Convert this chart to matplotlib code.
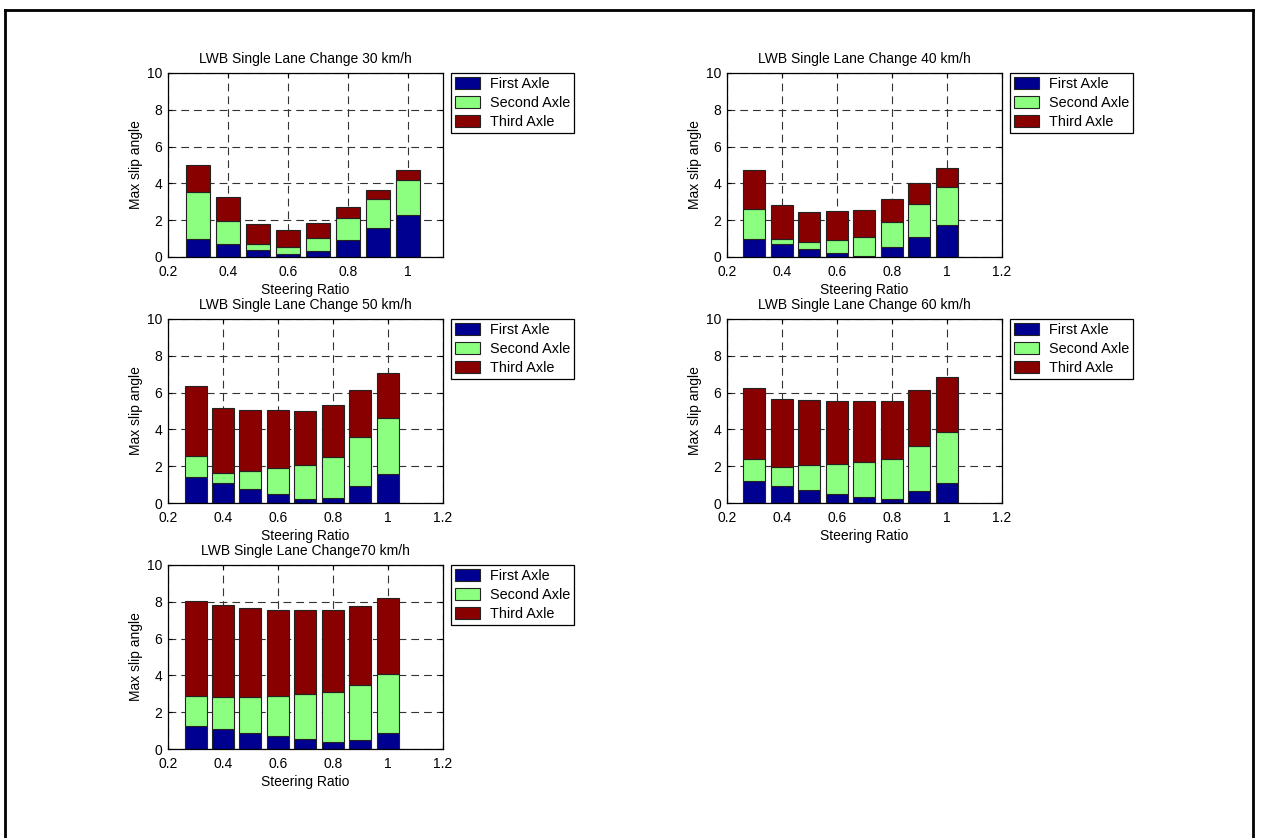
import matplotlib
matplotlib.use("Agg")
import matplotlib.pyplot as plt
from matplotlib.lines import Line2D
import numpy as np

plt.rcParams['font.family'] = ['Liberation Sans', 'DejaVu Sans']

# Steering ratios at which each manoeuvre was simulated
steering_ratio = [0.3, 0.4, 0.5, 0.6, 0.7, 0.8, 0.9, 1.0]
axle_names = ["First Axle", "Second Axle", "Third Axle"]
axle_colors = ["#000090", "#8CFF80", "#880000"]

# Max slip angle contribution of each axle (stacked) per speed
first_30 = [1.00, 0.71, 0.40, 0.18, 0.31, 0.94, 1.58, 2.30]
second_30 = [2.51, 1.23, 0.31, 0.35, 0.72, 1.18, 1.57, 1.87]
third_30 = [1.51, 1.32, 1.08, 0.96, 0.82, 0.60, 0.51, 0.56]

first_40 = [1.00, 0.71, 0.45, 0.22, 0.07, 0.54, 1.11, 1.76]
second_40 = [1.61, 0.29, 0.37, 0.69, 1.02, 1.34, 1.75, 2.04]
third_40 = [2.10, 1.83, 1.64, 1.57, 1.45, 1.27, 1.14, 1.04]

first_50 = [1.39, 1.11, 0.76, 0.51, 0.22, 0.27, 0.92, 1.58]
second_50 = [1.15, 0.50, 0.96, 1.41, 1.86, 2.23, 2.65, 3.04]
third_50 = [3.84, 3.55, 3.33, 3.13, 2.90, 2.81, 2.59, 2.45]

first_60 = [1.18, 0.92, 0.71, 0.51, 0.34, 0.22, 0.63, 1.11]
second_60 = [1.23, 1.05, 1.34, 1.59, 1.87, 2.17, 2.45, 2.75]
third_60 = [3.82, 3.68, 3.55, 3.43, 3.32, 3.14, 3.04, 2.97]

first_70 = [1.26, 1.08, 0.85, 0.68, 0.54, 0.40, 0.50, 0.85]
second_70 = [1.62, 1.75, 1.98, 2.20, 2.47, 2.70, 2.98, 3.20]
third_70 = [5.17, 4.99, 4.83, 4.69, 4.52, 4.43, 4.29, 4.18]

titles = [
    "LWB Single Lane Change 30 km/h",
    "LWB Single Lane Change 40 km/h",
    "LWB Single Lane Change 50 km/h",
    "LWB Single Lane Change 60 km/h",
    "LWB Single Lane Change70 km/h",
]
series = [
    (first_30, second_30, third_30),
    (first_40, second_40, third_40),
    (first_50, second_50, third_50),
    (first_60, second_60, third_60),
    (first_70, second_70, third_70),
]
x_limits = [(0.2, 1.117), (0.2, 1.2), (0.2, 1.2), (0.2, 1.2), (0.2, 1.2)]
x_ticks = [[0.2, 0.4, 0.6, 0.8, 1.0]] + [[0.2, 0.4, 0.6, 0.8, 1.0, 1.2]] * 4
x_ticklabels = [["0.2", "0.4", "0.6", "0.8", "1"]] + [["0.2", "0.4", "0.6", "0.8", "1", "1.2"]] * 4

W, H = 1261, 838
fig = plt.figure(figsize=(W / 100, H / 100), dpi=100)

# panel boxes in pixels: (left, top)
panel_px = [(168, 73), (727, 73), (168, 319), (727, 319), (168, 565)]
ax_w, ax_h = 275, 184
fs = 10
leg_fs = 10.4

for i, ((px, py), title, (s1, s2, s3)) in enumerate(zip(panel_px, titles, series)):
    ax = fig.add_axes([px / W, 1 - (py + ax_h) / H, ax_w / W, ax_h / H])
    x = np.array(steering_ratio)
    b1 = np.array(s1)
    b2 = np.array(s2)
    b3 = np.array(s3)
    kw = dict(width=0.08, edgecolor="#222222", linewidth=0.8, zorder=2)
    ax.bar(x, b1, color=axle_colors[0], label=axle_names[0], **kw)
    ax.bar(x, b2, bottom=b1, color=axle_colors[1], label=axle_names[1], **kw)
    ax.bar(x, b3, bottom=b1 + b2, color=axle_colors[2], label=axle_names[2], **kw)

    ax.set_xlim(*x_limits[i])
    ax.set_ylim(0, 10)
    ax.set_xticks(x_ticks[i])
    ax.set_xticklabels(x_ticklabels[i])
    ax.set_yticks([0, 2, 4, 6, 8, 10])
    ax.set_axisbelow(True)
    ax.grid(True, color="#333333", linestyle=(0, (7, 4.5)), linewidth=0.8)
    ax.tick_params(direction="in", length=3, width=0.8, labelsize=fs,
                   top=True, right=True)
    ax.tick_params(axis="x", pad=6)
    ax.tick_params(axis="y", pad=4)
    for sp in ax.spines.values():
        sp.set_linewidth(0.9)
        sp.set_color("black")
    ax.set_title(title, fontsize=fs, pad=7.5)
    ax.set_xlabel("Steering Ratio", fontsize=fs, labelpad=2.5)
    ax.set_ylabel("Max slip angle", fontsize=fs, labelpad=3)

    leg = ax.legend(loc="upper left", bbox_to_anchor=(1 + 8 / ax_w, 1.0),
                    borderaxespad=0, fontsize=leg_fs, frameon=True, fancybox=False,
                    framealpha=1, edgecolor="black", handlelength=1.75,
                    handleheight=0.9, labelspacing=0.33, handletextpad=0.65,
                    borderpad=0.28)
    leg.get_frame().set_linewidth(0.9)

# page border
lw = 2.0
fig.add_artist(Line2D([5 / W, 5 / W], [0, 1 - 10 / H], color="black", linewidth=lw))
fig.add_artist(Line2D([5 / W, 1253 / W], [1 - 10 / H, 1 - 10 / H], color="black", linewidth=lw))
fig.add_artist(Line2D([1253 / W, 1253 / W], [0, 1 - 10 / H], color="black", linewidth=lw))

fig.savefig("out.png", dpi=100)
